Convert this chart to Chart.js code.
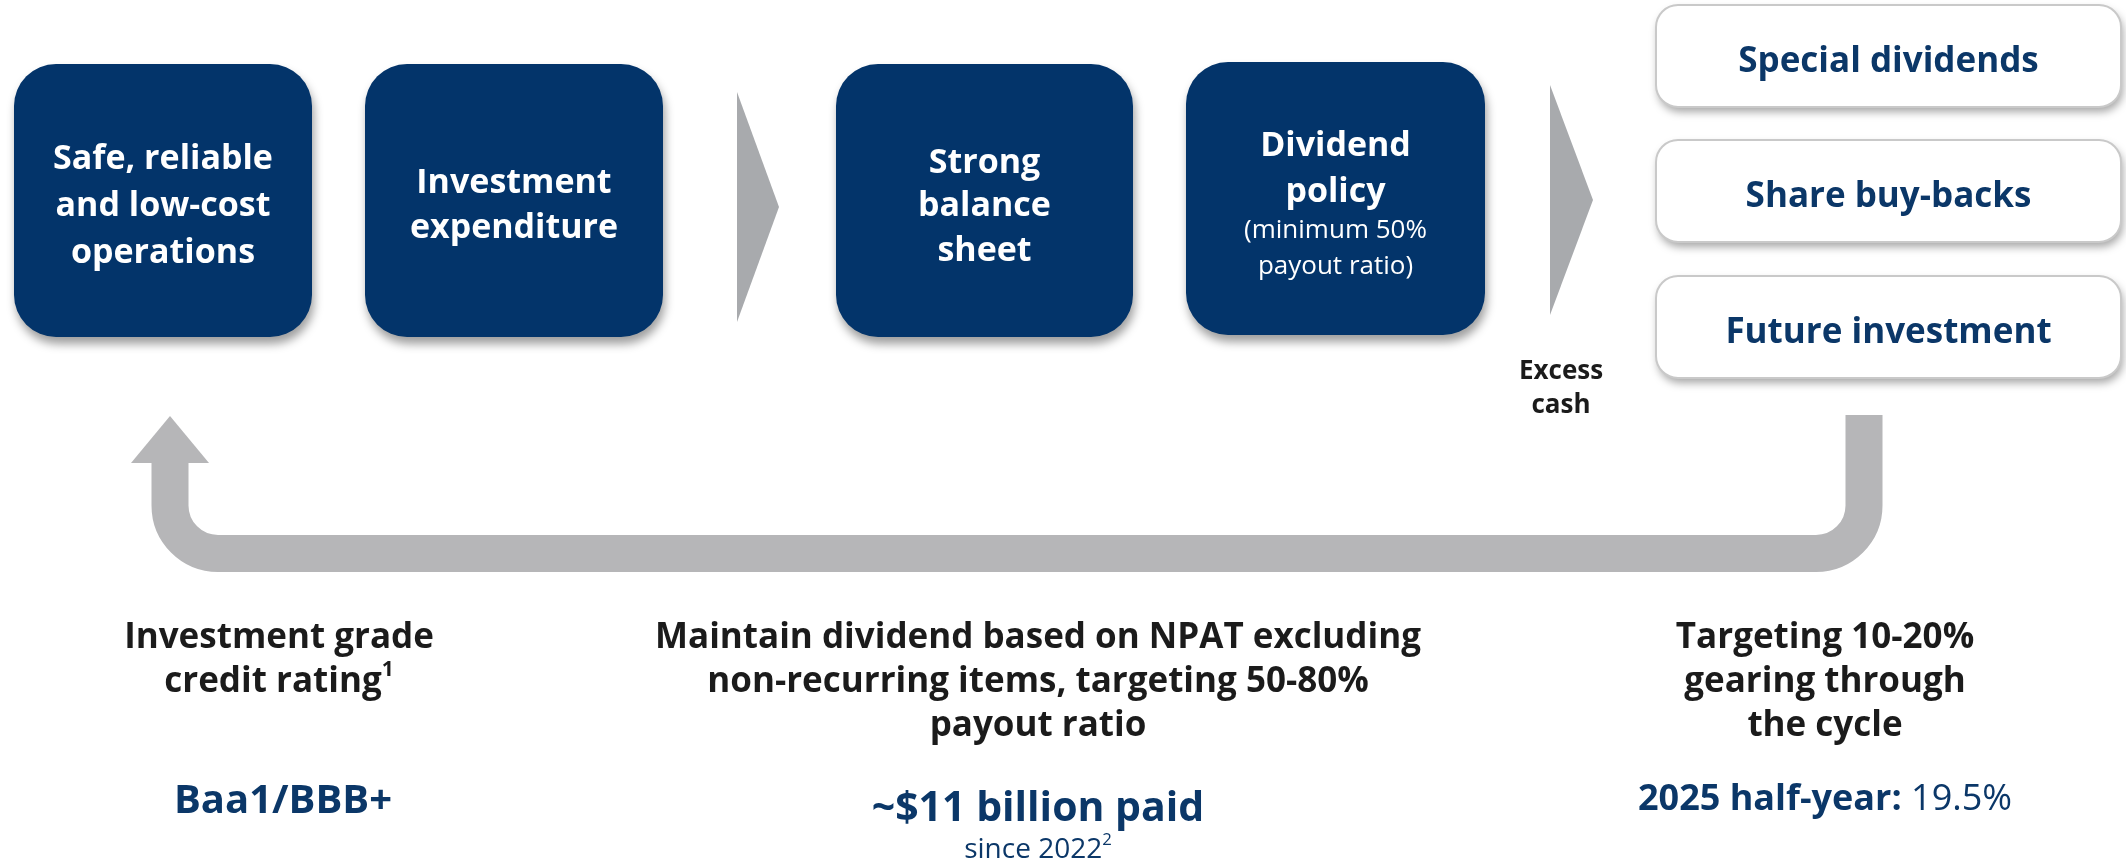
<!DOCTYPE html>
<html>
<head>
<meta charset="utf-8">
<script src="https://cdn.jsdelivr.net/npm/chart.js@4"></script>
<style>
  body { margin: 0; background: #fff; }
  #wrap { position: relative; width: 2126px; height: 862px; overflow: hidden; }
  #labels div { position: absolute; transform: translate(-50%, -50%); white-space: nowrap;
    font-family: "Open Sans", "Noto Sans", sans-serif; line-height: 1; }
  sup { font-size: 0.6em; vertical-align: 0.75em; line-height: 0; }
</style>
</head>
<body>
<div id="wrap">
  <canvas id="myChart" width="2126" height="862"></canvas>
  <div id="labels"></div>
</div>
<script>
// flow steps (navy boxes)
let stepLines = [
  ["Safe, reliable", "and low-cost", "operations"],
  ["Investment", "expenditure"],
  ["Strong", "balance", "sheet"],
  ["Dividend", "policy"]
];
let stepNote = ["(minimum 50%", "payout ratio)"];
// uses of excess cash
let cashUses = ["Special dividends", "Share buy-backs", "Future investment"];
let cashLabel = ["Excess", "cash"];
// targets under the loop
let targetLines = [
  ["Investment grade", "credit rating"],
  ["Maintain dividend based on NPAT excluding", "non-recurring items, targeting 50-80%", "payout ratio"],
  ["Targeting 10-20%", "gearing through", "the cycle"]
];
let targetNotes = ["1", "", ""];
let resultBold = ["Baa1/BBB+", "~$11 billion paid", "2025 half-year:"];
let resultPlain = ["", "", " 19.5%"];
let resultSub = ["", "since 2022", ""];
let resultSubNote = ["", "2", ""];

const NAVY = "#03346a";
const TEXT_BLUE = "#0b3768";
const DARK = "#1b1b1b";

// layout (diagram units = pixels of the 2126x862 picture)
let stepBoxes = [[14, 64, 312, 337], [365, 64, 663, 337], [836, 64, 1133, 337], [1186, 62, 1485, 335]];
let stepTextY = [[156, 203, 250], [180, 225], [160, 203, 248], [143, 189]];
let noteY = [228, 264];
let chevrons = [[737, 92, 322, 779], [1550, 85, 315, 1593]];
let useBoxes = [[1656, 5, 2121, 107], [1656, 140, 2121, 242], [1656, 276, 2121, 378]];
let targetX = [279, 1038, 1825];
let targetY = [634, 678, 722];
let resultY = [798, 805, 797];
let resultSize = [40, 41, 36];

let labels = document.getElementById("labels");
function addText(html, x, y, size, weight, color) {
  let d = document.createElement("div");
  d.innerHTML = html;
  d.style.left = x + "px";
  d.style.top = y + "px";
  d.style.fontSize = size + "px";
  d.style.fontWeight = weight;
  d.style.color = color;
  labels.appendChild(d);
}

let diagram = {
  id: "diagram",
  beforeDatasetsDraw(chart) {
    let ctx = chart.ctx;
    let sx = chart.scales.x, sy = chart.scales.y;
    let px = v => sx.getPixelForValue(v), py = v => sy.getPixelForValue(v);

    function roundRect(b, r) {
      ctx.beginPath();
      ctx.roundRect(px(b[0]), py(b[1]), px(b[2]) - px(b[0]), py(b[3]) - py(b[1]), r);
    }

    // navy step boxes
    stepBoxes.forEach(b => {
      ctx.save();
      ctx.shadowColor = "rgba(0,0,0,0.38)";
      ctx.shadowBlur = 10;
      ctx.shadowOffsetX = 2;
      ctx.shadowOffsetY = 7;
      roundRect(b, 42);
      ctx.fillStyle = NAVY;
      ctx.fill();
      ctx.restore();
    });

    // chevrons
    chevrons.forEach(c => {
      ctx.beginPath();
      ctx.moveTo(px(c[0]), py(c[1]));
      ctx.lineTo(px(c[3]), py((c[1] + c[2]) / 2));
      ctx.lineTo(px(c[0]), py(c[2]));
      ctx.closePath();
      ctx.fillStyle = "#a8aaad";
      ctx.fill();
    });

    // white boxes for uses of cash
    useBoxes.forEach(b => {
      ctx.save();
      ctx.shadowColor = "rgba(0,0,0,0.35)";
      ctx.shadowBlur = 8;
      ctx.shadowOffsetX = 2;
      ctx.shadowOffsetY = 5;
      roundRect(b, 22);
      ctx.fillStyle = "#fff";
      ctx.fill();
      ctx.restore();
      roundRect(b, 22);
      ctx.lineWidth = 2;
      ctx.strokeStyle = "#c9c9c9";
      ctx.stroke();
    });

    // return loop arrow
    ctx.save();
    ctx.strokeStyle = "#b6b6b8";
    ctx.fillStyle = "#b6b6b8";
    ctx.lineWidth = 37;
    ctx.beginPath();
    ctx.moveTo(px(1864), py(415));
    ctx.arcTo(px(1864), py(553.5), px(170), py(553.5), 48);
    ctx.arcTo(px(170), py(553.5), px(170), py(463), 48);
    ctx.lineTo(px(170), py(462));
    ctx.stroke();
    ctx.beginPath();
    ctx.moveTo(px(131), py(463));
    ctx.lineTo(px(209), py(463));
    ctx.lineTo(px(170), py(416));
    ctx.closePath();
    ctx.fill();
    ctx.restore();
  }
};

let ctx = document.getElementById("myChart");
let myChart = new Chart(ctx, {
  type: "scatter",
  data: { datasets: [{ data: [] }] },
  options: {
    responsive: false,
    animation: false,
    layout: { padding: 0 },
    plugins: { legend: { display: false }, tooltip: { enabled: false } },
    scales: {
      x: { type: "linear", min: 0, max: 2126, display: false },
      y: { type: "linear", min: 0, max: 862, reverse: true, display: false }
    }
  },
  plugins: [diagram]
});

// texts
stepLines.forEach((lines, i) => {
  let cx = (stepBoxes[i][0] + stepBoxes[i][2]) / 2;
  lines.forEach((t, j) => addText(t, cx, stepTextY[i][j], 34, 700, "#fff"));
});
let cx4 = (stepBoxes[3][0] + stepBoxes[3][2]) / 2;
stepNote.forEach((t, j) => addText(t, cx4, noteY[j], 26, 400, "#fff"));

cashUses.forEach((t, i) => {
  let b = useBoxes[i];
  addText(t, (b[0] + b[2]) / 2, (b[1] + b[3]) / 2 + 2, 35, 700, TEXT_BLUE);
});
addText(cashLabel[0], 1561, 369, 26, 700, DARK);
addText(cashLabel[1], 1561, 403, 26, 700, DARK);

targetLines.forEach((lines, i) => {
  lines.forEach((t, j) => {
    let html = t;
    if (j === lines.length - 1 && targetNotes[i]) html += "<sup>" + targetNotes[i] + "</sup>";
    addText(html, targetX[i], targetY[j], 35, 700, DARK);
  });
  let r = resultBold[i];
  if (resultPlain[i]) r += '<span style="font-weight:400">' + resultPlain[i] + "</span>";
  addText(r, targetX[i] + (i === 0 ? 4 : 0), resultY[i], resultSize[i], 700, TEXT_BLUE);
  if (resultSub[i]) addText(resultSub[i] + "<sup>" + resultSubNote[i] + "</sup>", targetX[i], 847, 28, 400, TEXT_BLUE);
});
</script>
</body>
</html>
